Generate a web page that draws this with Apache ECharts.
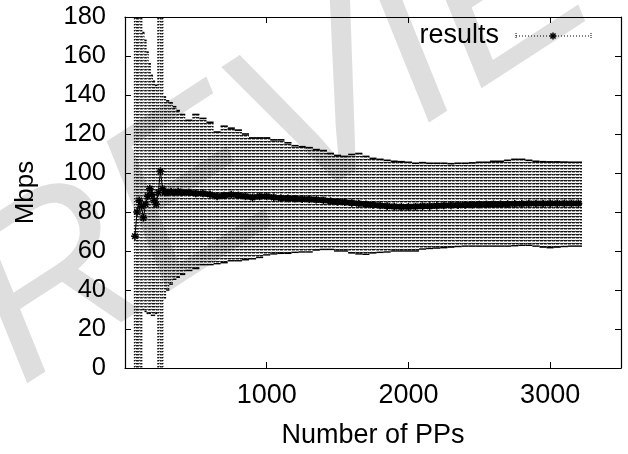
<!DOCTYPE html>
<html><head><meta charset="utf-8">
<script src="https://cdn.jsdelivr.net/npm/echarts@6/dist/echarts.min.js"></script>
<style>html,body{margin:0;padding:0;background:#fff}#c{width:628px;height:454px}</style>
</head><body><div id="c"></div>
<script>
// ---- data ----
const seriesName = 'results';
const xTitle = 'Number of PPs';
const yTitle = 'Mbps';
const watermarkText = 'PREVIEW';
const xTickLabels = [1000, 2000, 3000];
const yTickLabels = [0, 20, 40, 60, 80, 100, 120, 140, 160, 180];
const xValues = [70,85,100,115,130,145,160,175,190,205,220,235,250,265,280,300,325,350,375,400,
  450,500,550,600,650,700,750,800,850,900,950,1000,1050,1100,1150,1200,1250,1300,1350,1400,1450,1500,
  1550,1600,1650,1700,1750,1800,1850,1900,1950,2000,2050,2100,2150,2200,2250,2300,2350,2400,2450,2500,
  2550,2600,2650,2700,2750,2800,2850,2900,2950,3000,3050,3100,3150,3200];
const meanValues = [67.6,80,86,83,77,84,88,92,89,86,84,90,101,92,90,90,90.5,90,90.5,90,
  90,89.5,89.5,89,88,88.5,89,88.5,88,87.5,88,88,87.5,87.2,87,86.8,86.6,86.5,86.3,86,85.6,85.2,
  85,84.6,84.3,84,83.6,83.3,83,82.8,82.7,82.7,82.8,83,83,83.2,83.3,83.4,83.5,83.6,83.7,83.8,
  83.9,84,84,84.1,84.2,84.2,84.3,84.3,84.3,84.4,84.4,84.4,84.4,84.4];
const lowValues = [-20,-20,-20,-20,30,29,28,28,27,27,28,-20,-20,-20,36,40,43,45.5,46.5,48,
  50,51,53,53,53.5,54,55,55,55.5,56,56.7,58,58.5,58.8,58.8,59.3,59.5,59.5,60.5,60.8,60.8,60,
  60,59,58.5,58.3,59,59.3,59.5,60,60,60,60,61,61.3,61.5,61.7,62,62.3,62.5,62.5,62.5,
  62.5,62.5,62.5,62.5,62.7,62.9,62.9,62.5,62,61.7,62,62.3,62.5,62.5];
const highValues = [220,220,220,220,172,168,162,156,150,147,145,220,220,220,139,137,136,134,132,130,
  127,130,128,126,121,124,123,122,120,118,118,118,117,117,115.5,114,113.5,113,112,111.5,110,109,
  108.5,109.5,110,108.5,107.5,107,106.5,106,105.8,105.5,105,105.3,105,105,105,104.8,105,105,105.2,105.5,
  105.5,106,106,106.5,107,107,106.5,106,105.8,105.7,105.7,105.6,105.5,105.5];

// ---- rendering ----
const FONT = '"Liberation Sans", Arial, sans-serif';
function makePattern(){
  const c = document.createElement('canvas'); c.width = 4; c.height = 3;
  const g = c.getContext('2d');
  g.fillStyle = '#111'; g.fillRect(0,0,3,1);
  g.fillStyle = '#555'; g.fillRect(3,0,1,1);
  g.fillStyle = 'rgba(0,0,0,0.4)'; g.fillRect(0,1,3,1);
  g.fillStyle = 'rgba(0,0,0,0.15)'; g.fillRect(3,2,1,1);
  return c;
}
const pat = makePattern();
const n = xValues.length;
function asterisk(cx, cy, r, w){
  const d = r*0.72;
  return [
    {type:'line', shape:{x1:cx-r,y1:cy,x2:cx+r,y2:cy}, style:{stroke:'#000',lineWidth:w}},
    {type:'line', shape:{x1:cx,y1:cy-r,x2:cx,y2:cy+r}, style:{stroke:'#000',lineWidth:w}},
    {type:'line', shape:{x1:cx-d,y1:cy-d,x2:cx+d,y2:cy+d}, style:{stroke:'#000',lineWidth:w}},
    {type:'line', shape:{x1:cx-d,y1:cy+d,x2:cx+d,y2:cy-d}, style:{stroke:'#000',lineWidth:w}}
  ];
}
const chart = echarts.init(document.getElementById('c'), null, {renderer:'canvas'});
const axisCommon = {
  axisLine:{show:true,onZero:false,lineStyle:{color:'#000',width:1.2}},
  axisTick:{show:true,inside:true,length:6,lineStyle:{color:'#000',width:1}},
  splitLine:{show:false}
};
chart.setOption({
  animation:false,
  backgroundColor:'#fff',
  textStyle:{fontFamily:FONT},
  grid:{left:125,right:7,top:17,bottom:85,containLabel:false},
  xAxis:[
    Object.assign({type:'value',min:0,max:3500,interval:1000,position:'bottom',
      name:xTitle,nameLocation:'middle',nameGap:54,
      nameTextStyle:{fontSize:27,color:'#000',fontFamily:FONT},
      axisLabel:{fontSize:27,color:'#000',margin:14,fontFamily:FONT,showMaxLabel:false,
        formatter:v=>xTickLabels.indexOf(v)>=0?String(v):''}}, axisCommon),
    Object.assign({type:'value',min:0,max:3500,interval:1000,position:'top',
      axisLabel:{show:false}}, axisCommon)
  ],
  yAxis:[
    Object.assign({type:'value',min:0,max:180,interval:20,position:'left',
      name:yTitle,nameLocation:'middle',nameGap:86,nameRotate:90,
      nameTextStyle:{fontSize:26,color:'#000',fontFamily:FONT},
      axisLabel:{fontSize:25.5,color:'#000',margin:19,fontFamily:FONT,
        formatter:v=>yTickLabels.indexOf(v)>=0?String(v):''}}, axisCommon),
    Object.assign({type:'value',min:0,max:180,interval:20,position:'right',
      axisLabel:{show:false}}, axisCommon)
  ],
  graphic:[
    {type:'text', x:305, y:126, rotation:33*Math.PI/180, z:-10, silent:true,
      style:{text:watermarkText, font:'italic 232px '+FONT, fill:'#dedede', textAlign:'center', textVerticalAlign:'middle'}},
    {type:'group', z:100, children:[
      {type:'text', x:499, y:36, style:{text:seriesName, font:'27px '+FONT, fill:'#000', textAlign:'right', textVerticalAlign:'middle'}},
      {type:'line', shape:{x1:516,y1:36,x2:591,y2:36}, style:{stroke:'#000',lineWidth:1,lineDash:[1,2]}},
      {type:'line', shape:{x1:516,y1:33,x2:516,y2:39}, style:{stroke:'#000',lineWidth:1,lineDash:[1,1]}},
      {type:'line', shape:{x1:591,y1:33,x2:591,y2:39}, style:{stroke:'#000',lineWidth:1,lineDash:[1,1]}},
      {type:'group', children: asterisk(553,36,3.5,1.5)}
    ]}
  ],
  series:[
    {type:'custom', name:seriesName, clip:true, z:2,
      data: xValues.map((x,i)=>[x, lowValues[i], highValues[i]]),
      encode:{x:0,y:[1,2]},
      renderItem(params, api){
        const i = params.dataIndex, x = api.value(0), lo = api.value(1), hi = api.value(2);
        const prev = i>0 ? xValues[i-1] : 2*x - xValues[i+1];
        const next = i<n-1 ? xValues[i+1] : 2*x - xValues[i-1];
        const pl = api.coord([(prev+x)/2, lo]);
        const pr = api.coord([(next+x)/2, hi]);
        const xl = pl[0], yb = pl[1], xr = pr[0], yt = pr[1];
        return {type:'group', children:[
          {type:'rect', shape:{x:xl,y:yt,width:xr-xl,height:yb-yt}, style:{fill:{image:pat,repeat:'repeat'}}},
          {type:'line', shape:{x1:xl,y1:yt,x2:xr,y2:yt}, style:{stroke:'#000',lineWidth:1.6}},
          {type:'line', shape:{x1:xl,y1:yb,x2:xr,y2:yb}, style:{stroke:'#000',lineWidth:1.4}}
        ]};
      }
    },
    {type:'custom', name:seriesName+' mean', clip:true, z:3,
      data: xValues.map((x,i)=>[x, meanValues[i]]),
      encode:{x:0,y:1},
      renderItem(params, api){
        const i = params.dataIndex;
        const p = api.coord([api.value(0), api.value(1)]);
        const kids = asterisk(p[0], p[1], 3.8, 1.6);
        if (i < n-1){
          const q = api.coord([xValues[i+1], meanValues[i+1]]);
          const thick = xValues[i] >= 280;
          kids.unshift({type:'line', shape:{x1:p[0],y1:p[1],x2:q[0],y2:q[1]},
            style:{stroke:'#000', lineWidth: thick?5.5:1, lineCap:'round'}});
        }
        return {type:'group', children:kids};
      }
    }
  ]
});
</script></body></html>
